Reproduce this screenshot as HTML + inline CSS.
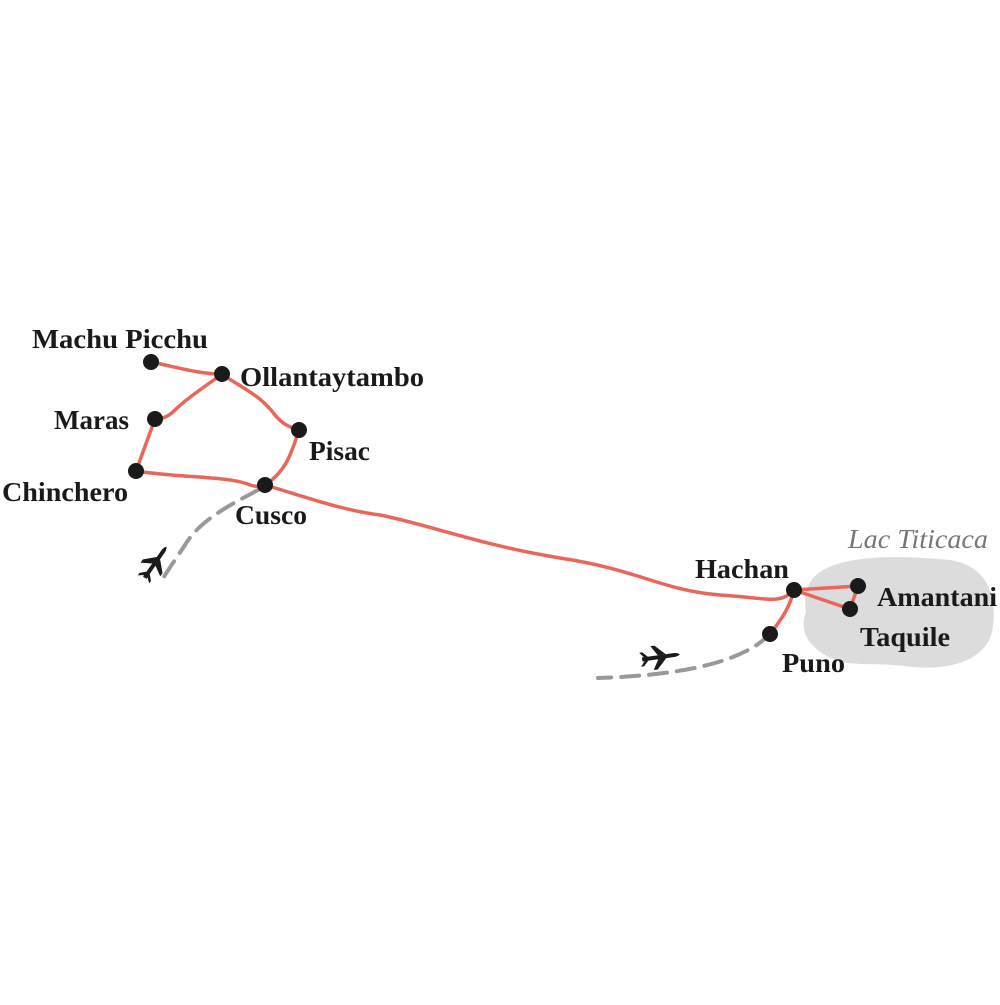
<!DOCTYPE html>
<html><head><style>body{margin:0;background:#fff}</style></head><body>
<svg width="1000" height="1000" viewBox="0 0 1000 1000" xmlns="http://www.w3.org/2000/svg">
<path d="M820,572 C845,555 900,555 950,560 C990,566 998,600 992,632 C985,662 945,672 905,666 C870,662 845,668 825,655 C805,643 800,628 806,612 C804,598 805,582 820,572Z" fill="#dcdcdc"/>
<g fill="none" stroke="#999" stroke-width="4" stroke-dasharray="18,10" stroke-linecap="round">
<path d="M258,490 C230,505 200,520 185,545 C175,560 168,570 162,580"/>
<path d="M770,634 C745,660 690,675 598,678"/>
</g>
<g fill="none" stroke="#e8675a" stroke-width="3.5" stroke-linecap="round">
<path d="M151,362 C180,368 200,374 222,374"/>
<path d="M222,374 C200,390 185,400 175,410 C168,417 162,419 155,419"/>
<path d="M155,419 L136,471"/>
<path d="M136,471 C180,478 230,476 250,485 C256,487 262,486 265,485"/>
<path d="M222,374 C245,390 260,395 275,415 C283,425 292,428 299,430"/>
<path d="M299,430 C292,450 288,470 265,485"/>
<path d="M265,485 C300,495 340,510 380,515 C430,525 480,545 560,558 C640,570 660,590 720,595 C770,598 780,605 794,590"/>
<path d="M794,590 L858,586 L850,609 L794,590"/>
<path d="M794,590 C790,605 785,615 770,634"/>
</g>
<g fill="#1a1a1a">
<circle cx="151" cy="362" r="8"/><circle cx="222" cy="374" r="8"/><circle cx="155" cy="419" r="8"/>
<circle cx="299" cy="430" r="8"/><circle cx="136" cy="471" r="8"/><circle cx="265" cy="485" r="8"/>
<circle cx="794" cy="590" r="8"/><circle cx="858" cy="586" r="8"/><circle cx="850" cy="609" r="8"/>
<circle cx="770" cy="634" r="8"/>
<g transform="translate(155,563) rotate(-55)"><path d="M-18,-2 L14,-2 C18,-2 20,0 20,0 C20,0 18,2 14,2 L-18,2Z M-2,-2 L-8,-12 L-4,-12 L6,-2Z M-2,2 L-8,12 L-4,12 L6,2Z M-16,-2 L-20,-7 L-17,-7 L-12,-2Z M-16,2 L-20,7 L-17,7 L-12,2Z"/></g>
<g transform="translate(660,657) rotate(-8)"><path d="M-18,-2 L14,-2 C18,-2 20,0 20,0 C20,0 18,2 14,2 L-18,2Z M-2,-2 L-8,-12 L-4,-12 L6,-2Z M-2,2 L-8,12 L-4,12 L6,2Z M-16,-2 L-20,-7 L-17,-7 L-12,-2Z M-16,2 L-20,7 L-17,7 L-12,2Z"/></g>
</g>
<g font-family="Liberation Serif, serif" font-weight="bold" font-size="27" fill="#1a1a1a">
<text x="32" y="348" textLength="176" lengthAdjust="spacingAndGlyphs">Machu Picchu</text>
<text x="240" y="386" textLength="184" lengthAdjust="spacingAndGlyphs">Ollantaytambo</text>
<text x="54" y="429" textLength="75" lengthAdjust="spacingAndGlyphs">Maras</text>
<text x="309" y="460" textLength="61" lengthAdjust="spacingAndGlyphs">Pisac</text>
<text x="2" y="501" textLength="126" lengthAdjust="spacingAndGlyphs">Chinchero</text>
<text x="235" y="524" textLength="72" lengthAdjust="spacingAndGlyphs">Cusco</text>
<text x="695" y="578" textLength="94" lengthAdjust="spacingAndGlyphs">Hachan</text>
<text x="877" y="606" textLength="120" lengthAdjust="spacingAndGlyphs">Amantani</text>
<text x="860" y="646" textLength="90" lengthAdjust="spacingAndGlyphs">Taquile</text>
<text x="782" y="672" textLength="63" lengthAdjust="spacingAndGlyphs">Puno</text>
</g>
<text x="848" y="548" font-family="Liberation Serif, serif" font-style="italic" font-size="27" fill="#777" textLength="140" lengthAdjust="spacingAndGlyphs">Lac Titicaca</text>
</svg>
</body></html>
